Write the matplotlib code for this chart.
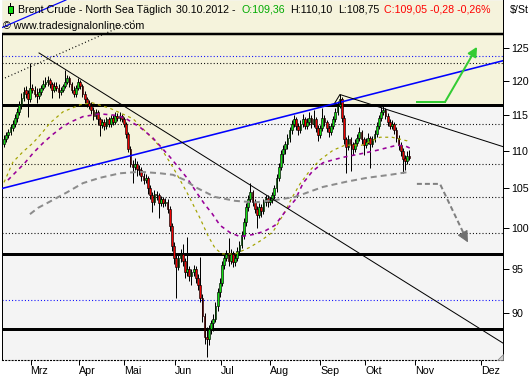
import numpy as np
import matplotlib
matplotlib.use("Agg")
import matplotlib.pyplot as plt
from matplotlib.ticker import FixedLocator, NullLocator
from matplotlib.patches import Rectangle, Polygon

plt.rcParams['font.family'] = ['Liberation Sans', 'DejaVu Sans']
plt.rcParams['lines.scale_dashes'] = False

# Tageskerzen (Index = Handelstag), O/H/L/C
opens = [
    111.0, 111.6, 112.2, 112.6, 113.2, 113.8, 114.6, 115.4, 116.5, 117.5,
    118.6, 118.2, 117.3, 119.0, 118.7, 118.1, 117.8, 118.4, 119.0, 119.5,
    119.9, 120.1, 119.5, 118.7, 119.3, 119.0, 118.4, 118.7, 119.3, 119.9,
    120.4, 119.5, 118.7, 118.1, 119.0, 119.9, 119.3, 118.1, 117.3, 116.7,
    116.4, 115.8, 114.9, 115.5, 114.4, 113.6, 114.0, 113.5, 114.4, 113.8,
    114.6, 114.0, 114.9, 114.6, 114.9, 114.5, 113.8, 112.3, 110.3, 108.3,
    107.9, 108.3, 107.6, 107.4, 106.6, 106.1, 106.4, 105.0, 104.1, 103.3,
    104.3, 104.1, 103.1, 103.6, 103.1, 103.3, 102.4, 100.2, 97.7, 96.3,
    95.3, 96.3, 96.8, 95.9, 94.6, 95.0, 94.2, 94.6, 95.0, 94.0,
    93.1, 91.7, 89.6, 87.3, 87.1, 88.2, 88.8, 89.3, 90.7, 92.3,
    93.4, 95.5, 96.3, 96.8, 96.0, 96.8, 95.8, 96.3, 97.1, 97.9,
    99.1, 100.7, 102.6, 103.6, 104.5, 103.2, 102.4, 101.6, 102.6, 102.1,
    103.2, 103.8, 103.3, 103.5, 104.1, 105.0, 106.4, 107.9, 109.6, 110.3,
    110.9, 111.8, 112.9, 113.8, 114.4, 113.5, 112.9, 113.8, 114.4, 113.5,
    114.0, 114.6, 113.8, 114.4, 113.2, 112.2, 113.2, 114.6, 114.0, 113.2,
    112.6, 113.5, 114.4, 115.5, 116.4, 117.3, 114.6, 111.6, 110.5, 111.6,
    110.9, 110.3, 111.1, 111.8, 112.6, 111.6, 110.8, 111.3, 111.8, 110.9,
    111.6, 112.4, 113.5, 114.6, 115.5, 115.8, 114.9, 114.0, 113.5, 113.8,
    112.9, 111.8, 110.8, 110.0, 109.0, 108.6, 109.36,
]
highs = [
    112.2, 112.7, 113.1, 113.8, 114.3, 115.2, 116.0, 117.0, 118.2, 119.1,
    119.2, 118.6, 122.7, 119.6, 119.3, 118.9, 118.9, 119.4, 120.1, 120.6,
    120.8, 120.5, 119.9, 119.8, 119.9, 119.5, 119.1, 119.6, 121.6, 120.9,
    120.8, 119.9, 119.2, 119.4, 120.4, 120.2, 119.6, 118.5, 117.7, 117.2,
    116.9, 116.2, 115.9, 115.8, 114.8, 114.5, 114.4, 114.8, 114.7, 115.1,
    115.0, 115.4, 115.3, 115.4, 115.2, 114.8, 114.1, 112.6, 110.7, 108.8,
    109.0, 108.7, 108.1, 107.8, 107.0, 106.9, 106.7, 105.4, 104.5, 104.8,
    104.7, 104.4, 104.0, 103.9, 103.8, 103.6, 102.7, 100.6, 98.3, 96.9,
    96.9, 97.4, 98.0, 96.3, 98.9, 95.4, 95.0, 95.5, 95.4, 94.4,
    96.4, 92.1, 90.0, 88.4, 88.6, 89.2, 89.8, 91.2, 92.8, 93.9,
    96.0, 96.9, 97.3, 98.7, 97.4, 97.2, 96.8, 97.6, 98.4, 99.6,
    101.2, 103.1, 104.1, 105.7, 104.8, 103.6, 102.8, 103.1, 103.0, 103.6,
    104.2, 104.1, 103.9, 104.6, 105.5, 106.9, 108.4, 110.1, 110.8, 111.4,
    112.3, 113.4, 114.3, 115.0, 114.8, 113.9, 114.3, 115.2, 114.8, 114.6,
    115.4, 115.0, 115.8, 114.7, 113.6, 113.6, 116.0, 115.0, 114.3, 113.6,
    113.9, 114.9, 116.0, 117.0, 118.0, 117.6, 115.0, 112.0, 112.2, 112.0,
    111.3, 111.6, 112.4, 113.3, 112.9, 112.0, 111.8, 112.5, 112.1, 112.1,
    112.9, 114.0, 115.1, 116.2, 116.3, 116.1, 115.3, 114.4, 114.3, 114.1,
    113.3, 112.2, 111.2, 110.4, 109.4, 110.0, 110.10,
]
lows = [
    110.6, 111.2, 111.8, 112.2, 112.8, 113.4, 114.1, 115.0, 115.9, 117.0,
    117.5, 114.8, 116.9, 118.2, 117.6, 116.7, 117.3, 117.9, 118.6, 119.1,
    119.3, 118.9, 117.5, 118.3, 118.5, 117.5, 117.9, 118.3, 118.9, 119.5,
    119.1, 118.2, 117.6, 117.7, 118.6, 118.8, 117.7, 116.8, 116.2, 115.9,
    115.2, 114.3, 114.5, 113.6, 112.1, 113.2, 112.9, 113.1, 113.4, 113.4,
    113.6, 113.7, 114.2, 114.2, 114.1, 113.3, 111.8, 109.8, 107.8, 105.7,
    107.4, 106.6, 106.8, 106.0, 105.6, 105.7, 104.3, 103.6, 102.0, 102.9,
    103.5, 101.2, 102.7, 102.6, 102.7, 101.9, 99.6, 97.1, 95.6, 91.7,
    94.9, 95.8, 95.4, 94.0, 94.2, 93.6, 93.1, 94.2, 93.4, 92.6,
    91.2, 89.0, 86.5, 85.2, 86.4, 87.6, 88.0, 88.9, 90.2, 91.8,
    93.0, 95.0, 95.9, 95.4, 95.6, 95.2, 95.4, 95.9, 96.7, 97.5,
    98.6, 100.2, 102.1, 103.2, 102.7, 101.8, 100.0, 101.2, 101.3, 101.7,
    102.8, 102.6, 102.9, 103.1, 103.7, 104.6, 106.0, 107.4, 108.4, 109.6,
    110.3, 111.2, 112.4, 113.3, 112.9, 112.2, 112.5, 113.4, 113.0, 113.1,
    113.6, 113.2, 113.4, 112.6, 111.4, 111.8, 112.8, 113.5, 112.7, 111.9,
    112.2, 113.1, 114.0, 115.0, 116.0, 114.0, 111.0, 107.0, 110.1, 107.3,
    109.4, 109.9, 110.7, 111.4, 111.0, 109.5, 110.4, 110.9, 107.7, 110.5,
    111.2, 112.0, 113.1, 114.2, 115.0, 114.4, 113.5, 113.0, 113.1, 112.4,
    111.3, 110.2, 109.3, 107.0, 107.5, 108.2, 108.75,
]
closes = [
    111.6, 112.2, 112.6, 113.3, 113.8, 114.6, 115.5, 116.5, 117.5, 118.4,
    118.1, 117.3, 119.0, 118.7, 118.1, 117.8, 118.4, 119.0, 119.5, 119.9,
    120.1, 119.5, 118.7, 119.3, 119.0, 118.4, 118.7, 119.3, 119.9, 120.4,
    119.5, 118.7, 118.1, 119.0, 119.9, 119.3, 118.1, 117.3, 116.7, 116.4,
    115.8, 114.9, 115.5, 114.4, 113.6, 114.0, 113.5, 114.4, 113.8, 114.6,
    114.0, 114.9, 114.6, 114.9, 114.5, 113.8, 112.3, 110.3, 108.3, 107.9,
    108.3, 107.6, 107.4, 106.6, 106.1, 106.4, 105.0, 104.1, 103.3, 104.3,
    104.1, 103.1, 103.6, 103.1, 103.3, 102.4, 100.2, 97.7, 96.3, 95.3,
    96.3, 96.8, 95.9, 94.6, 95.0, 94.2, 94.6, 95.0, 94.0, 93.1,
    91.7, 89.6, 87.3, 87.1, 88.2, 88.8, 89.3, 90.7, 92.3, 93.4,
    95.5, 96.3, 96.8, 96.0, 96.8, 95.8, 96.3, 97.1, 97.9, 99.1,
    100.7, 102.6, 103.6, 104.5, 103.2, 102.4, 101.6, 102.6, 102.1, 103.2,
    103.8, 103.3, 103.5, 104.1, 105.0, 106.4, 107.9, 109.6, 110.3, 110.9,
    111.8, 112.9, 113.8, 114.4, 113.5, 112.9, 113.8, 114.4, 113.5, 114.0,
    114.6, 113.8, 114.4, 113.2, 112.2, 113.2, 114.6, 114.0, 113.2, 112.6,
    113.5, 114.4, 115.5, 116.4, 117.3, 114.6, 111.6, 110.5, 111.6, 110.9,
    110.3, 111.1, 111.8, 112.6, 111.6, 110.8, 111.3, 111.8, 110.9, 111.6,
    112.4, 113.5, 114.6, 115.5, 115.8, 114.9, 114.0, 113.5, 113.8, 112.9,
    111.8, 110.8, 110.0, 108.9, 108.6, 109.33, 109.05,
]

olive_x = [0, 4.1, 8.7, 13.3, 17.4, 21.1, 27.1, 34.9, 40.4, 48.6, 59.2, 65.6,
           71.6, 77.5, 83.9, 89.9, 93.6, 96.8, 100, 106, 112.8, 118.3, 123.4,
           128.9, 132.1, 135.8, 140.4, 145, 150.9, 156.4, 164.2, 172.5, 178,
           184.9, 186.2]
olive_y = [105.8, 108.5, 109.9, 111.1, 112.5, 113.9, 115.5, 116.5, 116.8, 116.0,
           114.5, 112.5, 110.6, 107.8, 104.5, 101.2, 99.0, 97.5, 96.8, 96.8,
           97.6, 98.5, 99.5, 102.0, 103.8, 105.6, 107.4, 108.8, 110.1, 110.8,
           110.8, 111.9, 111.9, 111.4, 111.1]
purple_x = [1.8, 9.6, 13.3, 17.9, 22, 26.6, 30.3, 36.2, 44, 50.9, 55.5, 62.4,
            68.3, 76.1, 83.9, 89, 92.2, 95.4, 99.1, 103.7, 108.3, 115.1, 119.7,
            124.3, 128.9, 133.5, 137.2, 141.3, 146.3, 150.9, 156.4, 163.3,
            171.1, 180.3, 184, 186.2]
purple_y = [106.1, 108.4, 109.7, 111.1, 112.2, 113.3, 114.0, 114.8, 115.2, 115.0,
            114.6, 113.3, 111.8, 109.2, 106.4, 104.2, 102.9, 101.8, 100.3, 99.4,
            98.9, 99.2, 99.6, 100.3, 102.0, 103.5, 105.7, 107.2, 108.4, 108.8,
            109.2, 109.6, 110.1, 110.8, 110.7, 110.4]
gray_x = [11.9, 15.6, 19.7, 28.9, 36.2, 44, 53.2, 62.4, 71.6, 77.5, 83, 87.6,
          96.8, 106, 115.1, 124.3, 133.5, 146.3, 157.3, 166.5, 177.1, 186.2]
gray_y = [101.7, 102.5, 103.1, 104.5, 105.7, 106.4, 107.0, 107.2, 107.0, 106.8,
          106.1, 105.2, 103.9, 103.4, 103.2, 103.5, 103.9, 105.2, 105.9, 106.4,
          106.8, 107.2]

# Linien
thick_levels = [116.5, 96.8, 88.2]
dotted_levels = [122.7, 113.8, 108.2, 103.9, 99.3]
blue_dotted_levels = [123.8, 91.4]
header_level = 127.2
channel_x, channel_y = [-0.92, 228.9], [105.0, 123.06]
blue_top_x, blue_top_y = [-1.83, 28.4], [128.1, 132.7]
down_x, down_y = [16.06, 228.9], [124.25, 86.65]
dot_x, dot_y = [0.46, 60.1], [120.45, 129.4]
sep_x, sep_y = [151.8, 154.1, 228.9], [116.8, 118.0, 110.6]
green_x, green_y = [189.4, 202.3, 217.0], [116.9, 116.9, 125.2]
gray_arrow_x, gray_arrow_y = [189.4, 200.0, 212.8], [105.6, 105.6, 98.2]

month_pos = [12.2, 34.5, 55.0, 78.3, 99.4, 121.8, 145.0, 165.6, 188.4, 218.8]
month_labels = ['Mrz', 'Apr', 'Mai', 'Jun', 'Jul', 'Aug', 'Sep', 'Okt', 'Nov', 'Dez']
price_ticks = [90, 95, 100, 105, 110, 115, 120, 125]

W, H = 531, 380
PX = 0.72  # Punkte pro Pixel
FS = 7.7
DOTS = (0, (PX, 2.2 * PX))

fig = plt.figure(figsize=(W / 100, H / 100), dpi=100)
ax = fig.add_axes([2 / W, 20 / H, 501 / W, 360 / H])
ax.set_yscale('log')
ax.set_xlim(-0.92, 228.9)
ax.set_ylim(84.85, 132.7)
ax.set_facecolor('#f4f4f4')

# beiger Bereich oberhalb Kanal / Widerstand
t = np.log(116.5 / channel_y[0]) / np.log(channel_y[1] / channel_y[0])
xc = channel_x[0] + t * (channel_x[1] - channel_x[0])
ax.fill_between([channel_x[0], xc, channel_x[1]], [channel_y[0], 116.5, 116.5],
                132.7, color='#f5f3dc', lw=0, zorder=0.5)

for lv in thick_levels:
    ax.axhline(lv, color='black', lw=3 * PX, zorder=2)
for lv in dotted_levels:
    ax.axhline(lv, color='black', lw=1.1 * PX, linestyle=DOTS, zorder=2)
for lv in blue_dotted_levels:
    ax.axhline(lv, color='#0000ff', lw=1.1 * PX, linestyle=DOTS, zorder=2)
ax.axhline(header_level, color='black', lw=2.5 * PX, zorder=8)

# Kerzen
x = np.arange(len(closes))
o = np.array(opens)
c = np.array(closes)
up = c >= o
cols = np.where(up, '#11dd11', '#ee0000')
body_lo = np.minimum(o, c)
body_h = np.maximum(np.abs(c - o), 0.12)
ax.vlines(x, lows, highs, color='black', lw=PX, zorder=3)
ax.bar(x, body_h, bottom=body_lo, width=0.8, color=cols, edgecolor='black',
       linewidth=0.45, zorder=4)

# Durchschnitte
ax.plot(olive_x, olive_y, color='#a3a300', lw=1.2 * PX, dashes=(3 * PX, 3.5 * PX), zorder=5)
ax.plot(purple_x, purple_y, color='#990099', lw=1.6 * PX, dashes=(4 * PX, 4 * PX), zorder=5)
ax.plot(gray_x, gray_y, color='#8c8c8c', lw=2 * PX, dashes=(6 * PX, 4 * PX), zorder=5)

# Trendlinien
ax.plot(channel_x, channel_y, color='#0000ff', lw=1.6 * PX, zorder=6)
ax.plot(blue_top_x, blue_top_y, color='#0000ff', lw=1.2 * PX, zorder=6)
ax.plot(down_x, down_y, color='black', lw=PX, zorder=6)
ax.plot(dot_x, dot_y, color='black', lw=1.2 * PX, dashes=(PX, 2.5 * PX), zorder=6)
ax.plot(sep_x, sep_y, color='black', lw=PX, zorder=6)
ax.plot([sep_x[1], sep_x[1]], [sep_y[1], 116.6], color='black', lw=PX, zorder=6)

# Pfeile
ax.plot(green_x[:2], green_y[:2], color='#33cc33', lw=2 * PX, zorder=7)
ax.annotate('', xy=(green_x[2], green_y[2]), xytext=(green_x[1], green_y[1]),
            arrowprops=dict(arrowstyle='-|>,head_length=0.55,head_width=0.28',
                            color='#33cc33', lw=2 * PX, shrinkA=0, shrinkB=0), zorder=7)
ax.plot(gray_arrow_x, gray_arrow_y, color='#808080', lw=2 * PX,
        dashes=(5 * PX, 3 * PX), zorder=7)
ax.annotate('', xy=(gray_arrow_x[2], gray_arrow_y[2]),
            xytext=(gray_arrow_x[2] - 1.6, gray_arrow_y[2] * 1.008),
            arrowprops=dict(arrowstyle='-|>,head_length=0.7,head_width=0.35',
                            color='#707070', lw=PX, shrinkA=0, shrinkB=0), zorder=7)

# Achsen
ax.spines['top'].set_visible(False)
ax.spines['left'].set_bounds(84.85, header_level)
ax.spines['left'].set_linewidth(PX)
ax.spines['right'].set_linewidth(PX)
ax.spines['bottom'].set_linewidth(1.1 * PX)
ax.spines['bottom'].set_linestyle(DOTS)

ax.yaxis.tick_right()
ax.yaxis.set_major_locator(FixedLocator(price_ticks))
ax.yaxis.set_minor_locator(NullLocator())
ax.set_yticklabels([str(v) for v in price_ticks])
ax.tick_params(axis='y', direction='out', length=6 * PX, width=PX, pad=1.5,
               labelsize=FS, colors='black')
ax.set_xticks(month_pos, month_labels)
ax.tick_params(axis='x', direction='out', length=5 * PX, width=PX, pad=1,
               labelsize=FS)
for lbl in ax.get_xticklabels():
    lbl.set_ha('left')

# Kopfzeile
def ftext(px, py, s, color='black'):
    fig.text(px / W, 1 - py / H, s, color=color, fontsize=FS, va='center',
             ha='left', zorder=10)

fig.add_artist(plt.Line2D([10 / W, 10 / W], [1 - 3 / H, 1 - 15 / H], color='black',
                          lw=PX, transform=fig.transFigure, zorder=10))
fig.add_artist(Rectangle((7.5 / W, 1 - 12.5 / H), 5 / W, 6.5 / H, facecolor='#11dd11',
                         edgecolor='black', lw=PX, transform=fig.transFigure, zorder=11))
ftext(17.5, 10, 'Brent Crude - North Sea Täglich')
ftext(176, 10, '30.10.2012 -')
ftext(242, 10, 'O:109,36', '#00aa00')
ftext(290.5, 10, 'H:110,10')
ftext(338.5, 10, 'L:108,75')
ftext(384, 10, 'C:109,05 -0,28 -0,26%', '#ff0000')
ftext(509.5, 10, '$/St')
ftext(3, 26, '© www.tradesignalonline.com')

# Eckmarke unten rechts
fig.add_artist(Polygon([[(503 - 6) / W, 20 / H], [503 / W, 20 / H], [503 / W, 26 / H]],
                       closed=True, facecolor='#d0d0d0', edgecolor='#808080',
                       lw=0.5, transform=fig.transFigure, zorder=10))

fig.savefig('out.png', dpi=100)
